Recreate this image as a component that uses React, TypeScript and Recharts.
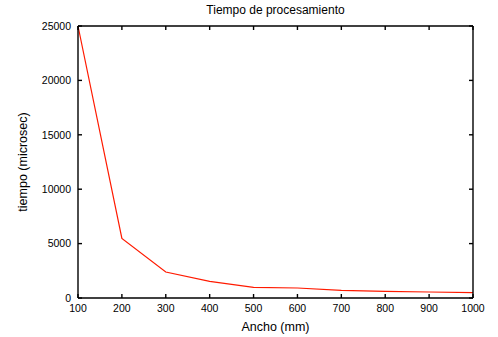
import { Label, Line, LineChart, XAxis, YAxis } from "recharts";

const anchos = [100, 200, 300, 400, 500, 600, 700, 800, 900, 1000];
const tiempos = [25000, 5480, 2390, 1530, 980, 920, 700, 600, 550, 490];
const xTicks = [100, 200, 300, 400, 500, 600, 700, 800, 900, 1000];
const yTicks = [0, 5000, 10000, 15000, 20000, 25000];

const data = anchos.map((a, i) => ({ ancho: a, tiempo: tiempos[i] }));

const font = "'Liberation Sans', Arial, sans-serif";
const tickStyle = { fill: "#000", fontSize: 10.5, fontFamily: font };
const border = { stroke: "#000", strokeWidth: 1.4 };

// mirrored gnuplot ticks: keep the tick lines, no labels
const NoLabel = () => <g />;

export default function App() {
  return (
    <div style={{ position: "absolute", left: 0, top: 0 }}>
      <LineChart
        width={498}
        height={337}
        data={data}
        margin={{ top: 24, right: 23, bottom: 0, left: 0 }}
      >
        <XAxis
          dataKey="ancho"
          type="number"
          domain={[100, 1000]}
          ticks={xTicks}
          height={39}
          tick={tickStyle}
          tickSize={-4}
          tickMargin={11}
          tickLine={border}
          axisLine={border}
        >
          <Label
            value="Ancho (mm)"
            position="insideBottom"
            offset={6}
            style={{ fill: "#000", fontSize: 12.5, fontFamily: font }}
          />
        </XAxis>
        <XAxis
          xAxisId="top"
          orientation="top"
          dataKey="ancho"
          type="number"
          domain={[100, 1000]}
          ticks={xTicks}
          height={2}
          tick={NoLabel}
          tickSize={-4}
          tickLine={border}
          axisLine={border}
        >
          <Label
            value="Tiempo de procesamiento"
            position="top"
            offset={10}
            style={{ fill: "#000", fontSize: 12, fontFamily: font }}
          />
        </XAxis>
        <YAxis
          type="number"
          domain={[0, 25000]}
          ticks={yTicks}
          width={78}
          tick={tickStyle}
          tickSize={-4}
          tickMargin={11}
          tickLine={border}
          axisLine={border}
        >
          <Label
            value="tiempo (microsec)"
            angle={-90}
            position="center"
            dx={-16}
            style={{ fill: "#000", fontSize: 12.5, fontFamily: font, textAnchor: "middle" }}
          />
        </YAxis>
        <YAxis
          yAxisId="right"
          orientation="right"
          type="number"
          domain={[0, 25000]}
          ticks={yTicks}
          width={2}
          tick={NoLabel}
          tickSize={-4}
          tickLine={border}
          axisLine={border}
        />
        <Line
          xAxisId="top"
          yAxisId="right"
          type="linear"
          dataKey="tiempo"
          stroke="none"
          dot={false}
          legendType="none"
          isAnimationActive={false}
        />
        <Line
          type="linear"
          dataKey="tiempo"
          stroke="#ff1a00"
          strokeWidth={1.2}
          dot={false}
          isAnimationActive={false}
        />
      </LineChart>
    </div>
  );
}
